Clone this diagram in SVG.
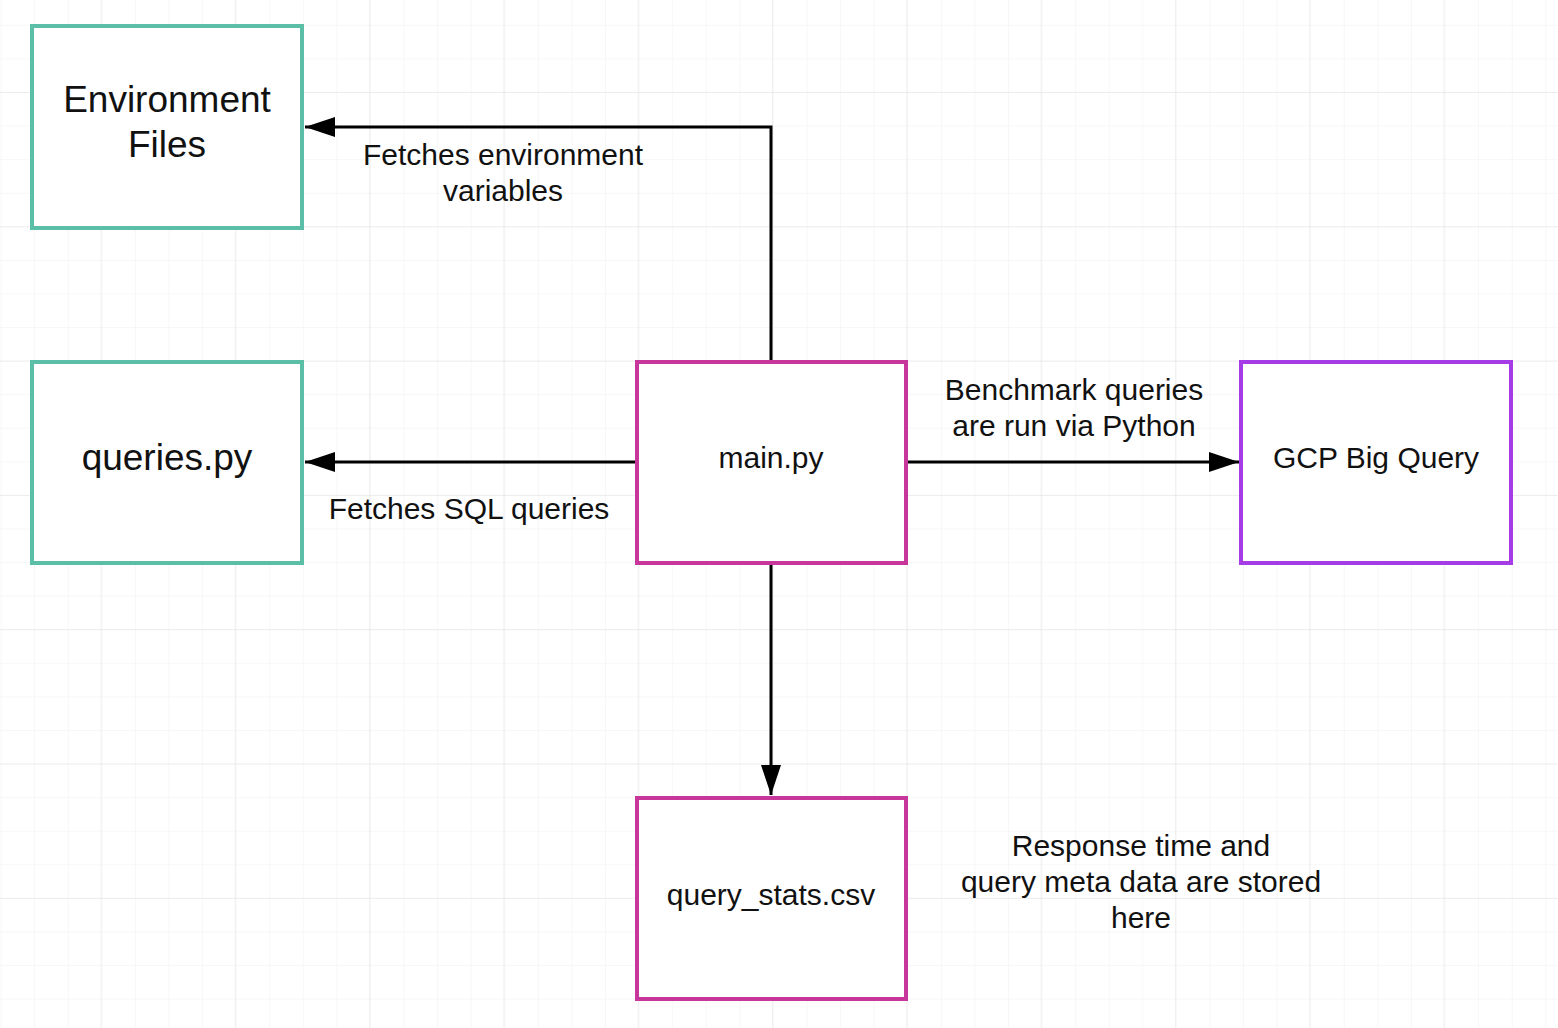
<svg xmlns="http://www.w3.org/2000/svg" width="1558" height="1028" viewBox="0 0 1558 1028">
<defs>
<pattern id="minor" x="0.6" y="24.8" width="33.58" height="33.58" patternUnits="userSpaceOnUse"><path d="M0 0H33.58M0 0V33.58" fill="none" stroke="#f0f0f0" stroke-width="1"/></pattern>
<pattern id="major" x="100.5" y="92" width="134.3" height="134.3" patternUnits="userSpaceOnUse"><path d="M0 0H134.3M0 0V134.3" fill="none" stroke="#e2e2e2" stroke-width="1"/></pattern>
<marker id="ahL" markerWidth="32" markerHeight="20" refX="30" refY="10" orient="auto" markerUnits="userSpaceOnUse"><path d="M0 0L30 10L0 20Z" fill="#000"/></marker>
</defs>
<style>
.box{fill:#fff;stroke-width:4}
.teal{stroke:#5bbfa7}.mag{stroke:#c7369b}.pur{stroke:#a63ce6}
text{font-family:"Liberation Sans",Arial,sans-serif;fill:#111;text-anchor:middle}
.big{font-size:37px}.mid{font-size:30px}.lab{font-size:30px}
.c{fill:none;stroke:#000;stroke-width:3}
</style>
<rect width="1558" height="1028" fill="#fff"/>
<rect width="1558" height="1028" fill="url(#minor)"/>
<rect width="1558" height="1028" fill="url(#major)"/>
<g id="connectors">
<path class="c" d="M771 361V127H305" marker-end="url(#ahL)"/>
<path class="c" d="M637 462H305" marker-end="url(#ahL)"/>
<path class="c" d="M906 462H1239" marker-end="url(#ahL)"/>
<path class="c" d="M771 564V795" marker-end="url(#ahL)"/>
<text class="lab" x="503" y="165">Fetches environment</text>
<text class="lab" x="503" y="201">variables</text>
<text class="lab" x="469" y="519">Fetches SQL queries</text>
<text class="lab" x="1074" y="400">Benchmark queries</text>
<text class="lab" x="1074" y="436">are run via Python</text>
<text class="lab" x="1141" y="856">Response time and</text>
<text class="lab" x="1141" y="892">query meta data are stored</text>
<text class="lab" x="1141" y="928">here</text>
</g>
<g id="env"><rect class="box teal" x="32" y="26" width="270" height="202"/><text class="big" x="167" y="112">Environment</text><text class="big" x="167" y="157">Files</text></g>
<g id="queries"><rect class="box teal" x="32" y="362" width="270" height="201"/><text class="big" x="167" y="470">queries.py</text></g>
<g id="main"><rect class="box mag" x="637" y="362" width="269" height="201"/><text class="mid" x="771" y="468">main.py</text></g>
<g id="gcp"><rect class="box pur" x="1241" y="362" width="270" height="201"/><text class="mid" x="1376" y="468">GCP Big Query</text></g>
<g id="stats"><rect class="box mag" x="637" y="798" width="269" height="201"/><text class="mid" x="771" y="905">query_stats.csv</text></g>
</svg>
